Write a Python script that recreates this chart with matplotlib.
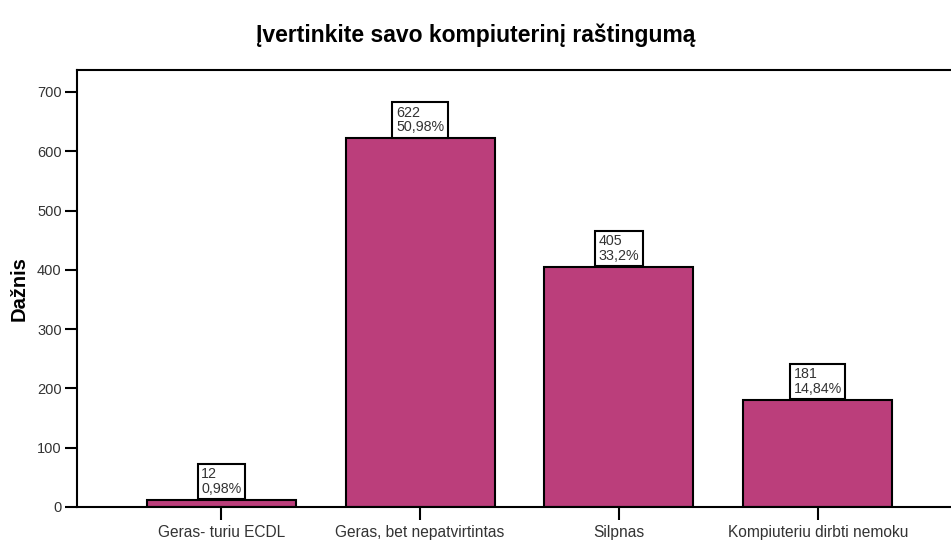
import matplotlib
matplotlib.use("Agg")
import matplotlib.pyplot as plt

plt.rcParams["font.family"] = ["Liberation Sans", "DejaVu Sans"]

# Data
categories = ["Geras- turiu ECDL", "Geras, bet nepatvirtintas", "Silpnas",
              "Kompiuteriu dirbti nemoku"]
counts = [12, 622, 405, 181]
percents = ["0,98%", "50,98%", "33,2%", "14,84%"]
y_ticks = [0, 100, 200, 300, 400, 500, 600, 700]

BAR_COLOR = "#BB3E7B"
TXT = "#333333"

fig = plt.figure(figsize=(9.51, 5.43), dpi=100)
ax = fig.add_axes([77 / 951, 36 / 543, 1 - 77 / 951 + 0.002, 437 / 543])

x = list(range(len(categories)))
ax.bar(x, counts, width=0.75, color=BAR_COLOR, edgecolor="black", linewidth=1.5, zorder=2)

for xi, c, p in zip(x, counts, percents):
    ax.annotate(f"{c}\n{p}", xy=(xi, c), xytext=(0, 4), textcoords="offset pixels",
                ha="center", va="bottom", multialignment="left", fontsize=10.3,
                color=TXT, linespacing=1.05,
                bbox=dict(boxstyle="square,pad=0.25", fc="white", ec="black", lw=1.5),
                zorder=3)

ax.set_xlim(-0.726, 3.68)
ax.set_ylim(0, 737)
ax.set_yticks(y_ticks)
ax.set_xticks(x)
ax.set_xticklabels(categories)
ax.tick_params(axis="both", direction="out", length=9, width=1.5, colors="black",
               labelcolor=TXT, labelsize=10.5, pad=2)
ax.tick_params(axis="x", pad=4, labelsize=11.2)

for side in ["left", "top", "bottom"]:
    ax.spines[side].set_linewidth(1.5)
ax.spines["right"].set_visible(False)

ax.set_ylabel("Dažnis", fontsize=14.5, fontweight="bold", labelpad=6)
fig.suptitle("Įvertinkite savo kompiuterinį raštingumą", fontsize=16.5, fontweight="bold",
             x=0.5, y=0.957)

fig.savefig("out.png", dpi=100)
